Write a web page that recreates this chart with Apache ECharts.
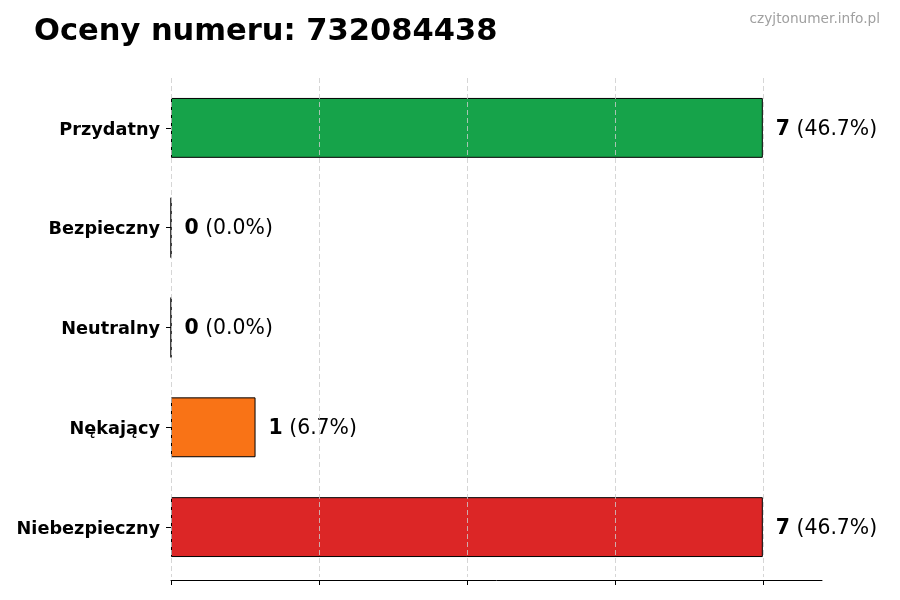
<!DOCTYPE html>
<html>
<head>
<meta charset="utf-8">
<style>html,body{margin:0;padding:0;background:#fff}#c{width:900px;height:600px}</style>
<script src="https://cdn.jsdelivr.net/npm/echarts@6/dist/echarts.min.js"></script>
</head>
<body>
<div id="c"></div>
<script>
const titleText = 'Oceny numeru: 732084438';
const watermark = 'czyjtonumer.info.pl';
const categories = ['Przydatny', 'Bezpieczny', 'Neutralny', 'Nękający', 'Niebezpieczny'];
const values = [7, 0, 0, 1, 7];
const barColors = ['#16a34a', '#6b7280', '#3b82f6', '#f97316', '#dc2626'];
const xTicks = [0, 1.75, 3.5, 5.25, 7];

const total = values.reduce((a, b) => a + b, 0);
const chart = echarts.init(document.getElementById('c'), null, {renderer: 'canvas'});
const font = 'DejaVu Sans';

chart.setOption({
  backgroundColor: '#fff',
  animation: false,
  title: [
    {text: titleText, left: 29, top: 12, textStyle: {fontFamily: font, fontSize: 30.5, fontWeight: 'bold', color: '#000'}},
    {text: watermark, right: 15, top: 7, textStyle: {fontFamily: font, fontSize: 13.7, fontWeight: 'normal', color: '#a0a0a0'}}
  ],
  grid: {left: 171, right: 78, top: 78, bottom: 23, containLabel: false},
  xAxis: {
    type: 'value', min: 0, max: 7.7, interval: 1.75, offset: 3,
    axisLine: {show: true, lineStyle: {color: '#000', width: 1}},
    axisTick: {show: true, length: 5, inside: false, customValues: xTicks, lineStyle: {color: '#000'}},
    axisLabel: {show: false},
    splitLine: {show: false}
  },
  yAxis: {
    type: 'category', data: categories, inverse: true,
    axisLine: {show: false},
    axisTick: {show: true, alignWithLabel: true, length: 5, lineStyle: {color: '#000'}},
    axisLabel: {
      margin: 11,
      formatter: v => '{a|' + v + '}',
      rich: {a: {fontFamily: font, fontSize: 17.7, fontWeight: 'bold', color: '#000', padding: [4, 0, 0, 0]}}
    }
  },
  series: [{
    type: 'bar',
    data: values.map((v, i) => ({value: v, itemStyle: {color: barColors[i]}})),
    barWidth: '60%',
    itemStyle: {borderColor: '#000', borderWidth: 1},
    label: {
      show: true, position: 'right', distance: 13,
      fontFamily: font, fontSize: 20.4, color: '#000', padding: [3, 0, 0, 0],
      formatter: p => '{b|' + p.value + '} (' + (p.value / total * 100).toFixed(1) + '%)',
      rich: {b: {fontFamily: font, fontSize: 20.4, fontWeight: 'bold', color: '#000'}}
    },
    markLine: {
      silent: true, symbol: 'none', label: {show: false},
      lineStyle: {color: '#cccccc', type: [5, 3], width: 1, opacity: 0.8},
      data: xTicks.map(t => ({xAxis: t}))
    }
  }]
});
</script>
</body>
</html>
